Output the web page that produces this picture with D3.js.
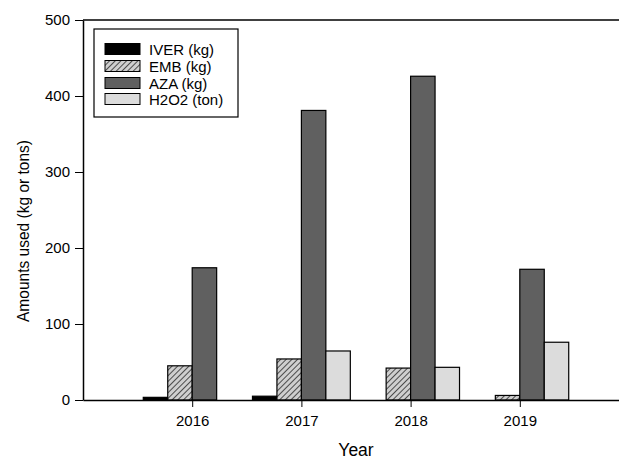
<!DOCTYPE html>
<html>
<head>
<meta charset="utf-8">
<script src="https://cdn.jsdelivr.net/npm/d3@7"></script>
<style>
  html, body { margin: 0; padding: 0; background: #fff; }
  svg { display: block; font-family: "Liberation Sans", Arial, sans-serif; }
</style>
</head>
<body>
<svg id="chart" width="619" height="460"></svg>
<script>
// Annual amounts per treatment
const years = [2016, 2017, 2018, 2019];
const seriesNames = ["IVER (kg)", "EMB (kg)", "AZA (kg)", "H2O2 (ton)"];
const iver = [3.5, 5, 0, 0];
const emb = [45, 54, 42, 6];
const aza = [174, 381, 426, 172];
const h2o2 = [0, 64.5, 43, 76];
const yTicks = [0, 100, 200, 300, 400, 500];

const seriesValues = [iver, emb, aza, h2o2];
const fills = ["#000000", "url(#hatch)", "#606060", "#dcdcdc"];

const svg = d3.select("#chart");
const margin = { left: 83, top: 20, right: 629, bottom: 400 };

// Hatch pattern for EMB bars
const defs = svg.append("defs");
const pat = defs.append("pattern")
  .attr("id", "hatch")
  .attr("patternUnits", "userSpaceOnUse")
  .attr("width", 4).attr("height", 4)
  .attr("patternTransform", "rotate(45)");
pat.append("rect").attr("width", 4).attr("height", 4).attr("fill", "#cfcfcf");
pat.append("line").attr("x1", 0).attr("y1", 0).attr("x2", 0).attr("y2", 4)
  .attr("stroke", "#2a2a2a").attr("stroke-width", 1.6);

const x = d3.scaleLinear().domain([2015, 2020]).range([margin.left, margin.right]);
const y = d3.scaleLinear().domain([0, 500]).range([margin.bottom, margin.top]);

// Bars: four per year, grouped around the year tick
const barW = 0.224; // in years
const bars = [];
years.forEach((yr, i) => {
  seriesValues.forEach((vals, s) => {
    if (vals[i] > 0) bars.push({ yr, s, v: vals[i] });
  });
});

svg.append("g").selectAll("rect")
  .data(bars)
  .join("rect")
  .attr("x", d => x(d.yr + (d.s - 2) * barW))
  .attr("width", d => x(d.yr + (d.s - 1) * barW) - x(d.yr + (d.s - 2) * barW))
  .attr("y", d => y(d.v))
  .attr("height", d => y(0) - y(d.v))
  .attr("fill", d => fills[d.s])
  .attr("stroke", "#000")
  .attr("stroke-width", 1.2);

// Top frame line
svg.append("line")
  .attr("x1", margin.left).attr("x2", margin.right)
  .attr("y1", margin.top).attr("y2", margin.top)
  .attr("stroke", "#000").attr("stroke-width", 1.5);

// Axes
const xAxis = d3.axisBottom(x).tickValues(years).tickFormat(d3.format("d"))
  .tickSize(7).tickPadding(8).tickSizeOuter(0);
const gx = svg.append("g").attr("transform", `translate(0,${margin.bottom})`).call(xAxis);
const yAxis = d3.axisLeft(y).tickValues(yTicks).tickSize(8).tickPadding(5).tickSizeOuter(0);
const gy = svg.append("g").attr("transform", `translate(${margin.left},0)`).call(yAxis);

[gx, gy].forEach(g => {
  g.select(".domain").attr("stroke", "#000").attr("stroke-width", 1.5);
  g.selectAll(".tick line").attr("stroke", "#000").attr("stroke-width", 1);
  g.selectAll(".tick text").attr("fill", "#000")
    .style("font-size", "15px").style("font-family", "'Liberation Sans', Arial, sans-serif");
});

// Axis titles
svg.append("text")
  .attr("x", (margin.left + margin.right) / 2).attr("y", 456)
  .attr("text-anchor", "middle")
  .style("font-size", "17.5px")
  .text("Year");

svg.append("text")
  .attr("transform", "translate(29,231) rotate(-90)")
  .attr("text-anchor", "middle")
  .attr("textLength", 182)
  .attr("lengthAdjust", "spacingAndGlyphs")
  .style("font-size", "17px")
  .text("Amounts used (kg or tons)");

// Legend
const lg = svg.append("g");
lg.append("rect")
  .attr("x", 94).attr("y", 29).attr("width", 144).attr("height", 88)
  .attr("fill", "#fff").attr("stroke", "#000").attr("stroke-width", 1.2);
const rowY = [49, 66, 83, 99];
seriesNames.forEach((name, i) => {
  lg.append("rect")
    .attr("x", 105).attr("y", rowY[i] - 5.5).attr("width", 35).attr("height", 11)
    .attr("fill", fills[i]).attr("stroke", "#000").attr("stroke-width", 1);
  lg.append("text")
    .attr("x", 149).attr("y", rowY[i] + 5.5)
    .style("font-size", "15px")
    .text(name);
});
</script>
</body>
</html>
